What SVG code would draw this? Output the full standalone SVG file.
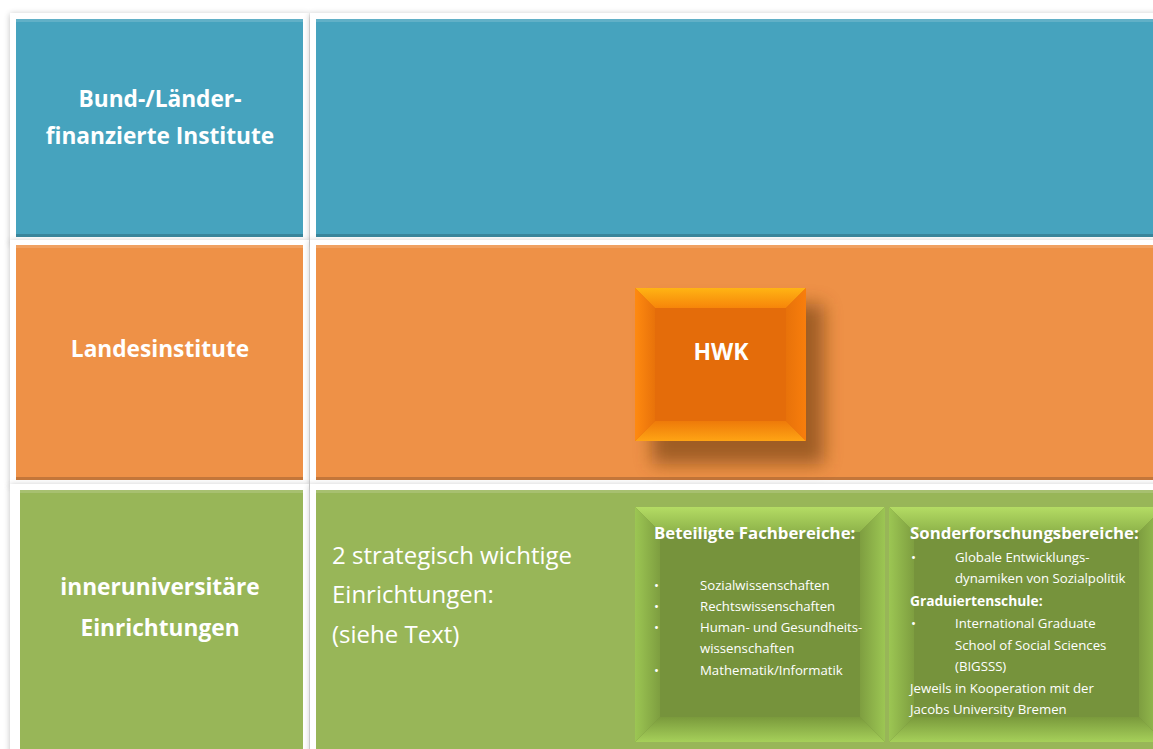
<svg xmlns="http://www.w3.org/2000/svg" width="1153" height="749" viewBox="0 0 1153 749">
<defs>
<filter id="frameShadow" x="-5%" y="-5%" width="110%" height="110%">
<feGaussianBlur in="SourceAlpha" stdDeviation="3"/>
<feOffset dx="0" dy="1"/>
<feComponentTransfer><feFuncA type="linear" slope="0.25"/></feComponentTransfer>
<feMerge><feMergeNode/><feMergeNode in="SourceGraphic"/></feMerge>
</filter>
<filter id="hwkShadow" x="-30%" y="-30%" width="170%" height="170%">
<feGaussianBlur stdDeviation="9"/>
</filter>
<linearGradient id="gTop" x1="0" y1="0" x2="0" y2="1"><stop offset="0" stop-color="#B4DC64"/><stop offset="1" stop-color="#8EB34A"/></linearGradient>
<linearGradient id="gBot" x1="0" y1="0" x2="0" y2="1"><stop offset="0" stop-color="#7A9A3C"/><stop offset="1" stop-color="#A6D05A"/></linearGradient>
<linearGradient id="gLeft" x1="0" y1="0" x2="1" y2="0"><stop offset="0" stop-color="#9CC653"/><stop offset="1" stop-color="#7E9E40"/></linearGradient>
<linearGradient id="gRight" x1="0" y1="0" x2="1" y2="0"><stop offset="0" stop-color="#7E9E40"/><stop offset="1" stop-color="#9CC653"/></linearGradient>
<linearGradient id="oTop" x1="0" y1="0" x2="0" y2="1"><stop offset="0" stop-color="#FFB414"/><stop offset="1" stop-color="#F7850A"/></linearGradient>
<linearGradient id="oBot" x1="0" y1="0" x2="0" y2="1"><stop offset="0" stop-color="#EE7A0A"/><stop offset="1" stop-color="#FFA414"/></linearGradient>
<linearGradient id="oLeft" x1="0" y1="0" x2="1" y2="0"><stop offset="0" stop-color="#FF8A10"/><stop offset="1" stop-color="#E8720A"/></linearGradient>
<linearGradient id="oRight" x1="0" y1="0" x2="1" y2="0"><stop offset="0" stop-color="#E8720A"/><stop offset="1" stop-color="#F87E0C"/></linearGradient>
</defs>
<style>
.frame{fill:#FFFFFF;filter:url(#frameShadow);}
.blue{fill:#46A3BE;}
.orange{fill:#EE9147;}
.green{fill:#98B658;}
.edgeB{fill:#000000;opacity:0.18;}
.edgeT{fill:#FFFFFF;opacity:0.15;}
.lbl{font-family:"Open Sans","Noto Sans",sans-serif;font-weight:bold;fill:#FFFFFF;text-anchor:middle;font-size:22.7px;}
.big{font-family:"Open Sans","Noto Sans",sans-serif;fill:#FFFFFF;font-size:24px;}
.hd{font-family:"Open Sans","Noto Sans",sans-serif;font-weight:bold;fill:#FFFFFF;font-size:16.8px;}
.sm{font-family:"Open Sans","Noto Sans",sans-serif;fill:#FFFFFF;font-size:13.2px;}
</style>
<rect width="1153" height="749" fill="#FFFFFF"/>

<g id="frames">
<rect class="frame" x="10" y="13" width="299" height="230"/>
<rect class="frame" x="310" y="13" width="850" height="230"/>
<rect class="frame" x="10" y="240" width="299" height="246"/>
<rect class="frame" x="310" y="240" width="850" height="246"/>
<rect class="frame" x="10" y="484" width="299" height="280"/>
<rect class="frame" x="310" y="484" width="850" height="280"/>
</g>

<g id="bund-label">
<rect class="blue" x="16" y="19" width="287" height="218"/>
<rect class="edgeT" x="16" y="19" width="287" height="3"/>
<rect class="edgeB" x="16" y="234" width="287" height="3"/>
<text class="lbl" x="160" y="107">Bund-/Länder-</text>
<text class="lbl" x="160" y="144">finanzierte Institute</text>
</g>

<g id="bund-row">
<rect class="blue" x="316" y="19" width="837" height="218"/>
<rect class="edgeT" x="316" y="19" width="837" height="3"/>
<rect class="edgeB" x="316" y="234" width="837" height="3"/>
</g>

<g id="landes-label">
<rect class="orange" x="16" y="245" width="287" height="235"/>
<rect class="edgeT" x="16" y="245" width="287" height="3"/>
<rect class="edgeB" x="16" y="477" width="287" height="3"/>
<text class="lbl" x="160" y="357">Landesinstitute</text>
</g>

<g id="landes-row">
<rect class="orange" x="316" y="245" width="837" height="235"/>
<rect class="edgeT" x="316" y="245" width="837" height="3"/>
<rect class="edgeB" x="316" y="477" width="837" height="3"/>
</g>

<g id="hwk">
<rect x="652" y="304" width="172" height="160" fill="#6A3A10" opacity="0.6" filter="url(#hwkShadow)"/>
<rect x="635" y="288" width="171" height="153" fill="#E46C0A"/>
<polygon points="635,288 806,288 786,308 655,308" fill="url(#oTop)"/>
<polygon points="635,441 806,441 786,421 655,421" fill="url(#oBot)"/>
<polygon points="635,288 655,308 655,421 635,441" fill="url(#oLeft)"/>
<polygon points="806,288 786,308 786,421 806,441" fill="url(#oRight)"/>
<text class="lbl" style="font-size:23px" x="721" y="360">HWK</text>
</g>

<g id="inner-label">
<rect class="green" x="20" y="490" width="283" height="259"/>
<rect class="edgeT" x="20" y="490" width="283" height="3"/>
<text class="lbl" x="160" y="595">inneruniversitäre</text>
<text class="lbl" x="160" y="636">Einrichtungen</text>
</g>

<g id="inner-row">
<rect class="green" x="316" y="490" width="837" height="259"/>
<rect class="edgeT" x="316" y="490" width="837" height="3"/>
<text class="big" x="332" y="564">2 strategisch wichtige</text>
<text class="big" x="332" y="603">Einrichtungen:</text>
<text class="big" x="332" y="643">(siehe Text)</text>
</g>

<g id="fachbereiche">
<rect x="635" y="507" width="250" height="235" fill="#76933C"/>
<polygon points="635,507 885,507 860,532 660,532" fill="url(#gTop)"/>
<polygon points="635,742 885,742 860,717 660,717" fill="url(#gBot)"/>
<polygon points="635,507 660,532 660,717 635,742" fill="url(#gLeft)"/>
<polygon points="885,507 860,532 860,717 885,742" fill="url(#gRight)"/>
<text class="hd" x="654" y="539">Beteiligte Fachbereiche:</text>
<text class="sm" x="654" y="590">•</text><text class="sm" x="700" y="590">Sozialwissenschaften</text>
<text class="sm" x="654" y="611">•</text><text class="sm" x="700" y="611">Rechtswissenschaften</text>
<text class="sm" x="654" y="632">•</text><text class="sm" x="700" y="632">Human- und Gesundheits-</text>
<text class="sm" x="700" y="653">wissenschaften</text>
<text class="sm" x="654" y="675">•</text><text class="sm" x="700" y="675">Mathematik/Informatik</text>
</g>

<g id="sonderforschung">
<rect x="889" y="507" width="275" height="235" fill="#76933C"/>
<polygon points="889,507 1164,507 1139,532 914,532" fill="url(#gTop)"/>
<polygon points="889,742 1164,742 1139,717 914,717" fill="url(#gBot)"/>
<polygon points="889,507 914,532 914,717 889,742" fill="url(#gLeft)"/>
<polygon points="1164,507 1139,532 1139,717 1164,742" fill="url(#gRight)"/>
<text class="hd" x="910" y="539">Sonderforschungsbereiche:</text>
<text class="sm" x="911" y="562">•</text><text class="sm" x="955" y="562">Globale Entwicklungs-</text>
<text class="sm" x="955" y="583">dynamiken von Sozialpolitik</text>
<text class="hd" style="font-size:13.8px" x="910" y="606">Graduiertenschule:</text>
<text class="sm" x="911" y="628">•</text><text class="sm" x="955" y="628">International Graduate</text>
<text class="sm" x="955" y="650">School of Social Sciences</text>
<text class="sm" x="955" y="671">(BIGSSS)</text>
<text class="sm" x="910" y="693">Jeweils in Kooperation mit der</text>
<text class="sm" x="910" y="714">Jacobs University Bremen</text>
</g>

<g id="connectors"></g>
</svg>
